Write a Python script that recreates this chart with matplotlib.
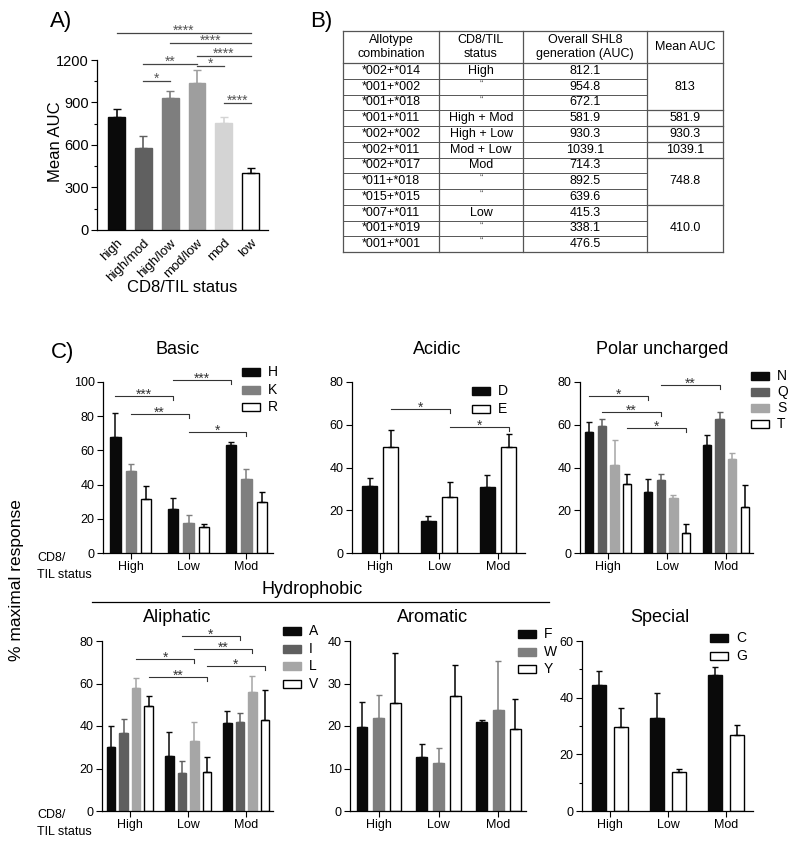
import numpy as np
import matplotlib.pyplot as plt
from matplotlib.patches import Rectangle
from matplotlib.ticker import MultipleLocator

plt.rcParams['font.family'] = ['Liberation Sans', 'DejaVu Sans']

W, H = 800, 849

# ---- panel A: mean AUC per CD8/TIL status
a_groups = ['high', 'high/mod', 'high/low', 'mod/low', 'mod', 'low']
a_means = [800, 580, 930, 1040, 755, 405]
a_errs = [55, 85, 50, 90, 45, 35]
a_colors = ['#0a0a0a', '#606060', '#7e7e7e', '#9e9e9e', '#d4d4d4', 'white']
# (bar from, bar to, height, stars)
a_sig = [(0, 5, 1390, '****'), (2, 5, 1320, '****'), (3, 5, 1228, '****'),
         (1, 3, 1172, '**'), (3, 4, 1158, '*'), (1, 2, 1052, '*'),
         (4, 5, 896, '****')]

# ---- panel B: table
allotypes = ['*002+*014', '*001+*002', '*001+*018', '*001+*011', '*002+*002',
             '*002+*011', '*002+*017', '*011+*018', '*015+*015', '*007+*011',
             '*001+*019', '*001+*001']
til_status = ['High', '\u201c', '\u201c', 'High + Mod', 'High + Low', 'Mod + Low',
              'Mod', '\u201c', '\u201c', 'Low', '\u201c', '\u201c']
shl8_auc = ['812.1', '954.8', '672.1', '581.9', '930.3', '1039.1',
            '714.3', '892.5', '639.6', '415.3', '338.1', '476.5']
mean_auc = ['813', '581.9', '930.3', '1039.1', '748.8', '410.0']
mean_rows = [(0, 3), (3, 4), (4, 5), (5, 6), (6, 9), (9, 12)]
headers = ['Allotype\ncombination', 'CD8/TIL\nstatus', 'Overall SHL8\ngeneration (AUC)', 'Mean AUC']

# ---- panel C: % maximal response per residue
statuses = ['High', 'Low', 'Mod']

basic_labels = ['H', 'K', 'R']
basic_means = [[68, 26, 63], [48, 17.5, 43], [31.5, 15, 30]]
basic_errs = [[14, 6, 2], [4, 4.5, 6], [7.5, 2, 5.5]]
basic_sig = [(0, 0, 1, 91.8, '***'), (1, 0, 1, 81.3, '**'), (0, 1, 2, 101.2, '***'), (1, 1, 2, 70.8, '*')]

acidic_labels = ['D', 'E']
acidic_means = [[31.5, 14.8, 31], [49.5, 26.3, 49.5]]
acidic_errs = [[3.5, 2.5, 5.5], [8, 6.7, 6]]
acidic_sig = [(1, 0, 1, 67.4, '*'), (1, 1, 2, 58.9, '*')]

polar_labels = ['N', 'Q', 'S', 'T']
polar_means = [[56.5, 28.5, 50.5], [59.5, 34, 62.5], [41, 25.8, 44], [32.5, 9.5, 21.5]]
polar_errs = [[5, 6, 4.5], [3, 3, 3.5], [12, 1.2, 3], [4.5, 4, 10.5]]
polar_sig = [(0, 0, 1, 73.4, '*'), (1, 0, 1, 66, '**'), (3, 0, 1, 58.5, '*'), (1, 1, 2, 78.6, '**')]

aliph_labels = ['A', 'I', 'L', 'V']
aliph_means = [[30, 26, 41.3], [36.7, 18, 42], [58, 33, 56], [49.3, 18.5, 43]]
aliph_errs = [[10, 11, 5.7], [6.8, 5.5, 4], [4.5, 8.7, 7.3], [4.7, 7, 14]]
aliph_sig = [(2, 0, 1, 71.5, '*'), (3, 0, 1, 63, '**'), (1, 1, 2, 82.4, '*'),
             (2, 1, 2, 76.2, '**'), (3, 1, 2, 68.2, '*')]

arom_labels = ['F', 'W', 'Y']
arom_means = [[19.8, 12.6, 20.9], [22, 11.3, 23.7], [25.5, 27, 19.2]]
arom_errs = [[5.9, 3.2, 0.6], [5.3, 3.6, 11.7], [11.6, 7.4, 7.2]]

special_labels = ['C', 'G']
special_means = [[44.5, 32.8, 48], [29.5, 13.8, 26.8]]
special_errs = [[5, 8.8, 3], [7, 1, 3.5]]

c3 = ['#0a0a0a', '#7f7f7f', 'white']
c2 = ['#0a0a0a', 'white']
c4 = ['#0a0a0a', '#5f5f5f', '#a6a6a6', 'white']


fig = plt.figure(figsize=(W / 100, H / 100), dpi=100)


def add_ax(l, t, r, b):
    return fig.add_axes([l / W, 1 - b / H, (r - l) / W, (b - t) / H])


def style(ax):
    for s in ['top', 'right']:
        ax.spines[s].set_visible(False)
    for s in ['left', 'bottom']:
        ax.spines[s].set_linewidth(0.9)
    ax.tick_params(direction='out', length=4, width=0.8, labelsize=9, pad=2)
    ax.tick_params(which='minor', direction='out', length=2.5, width=0.8)


def edge(c):
    return 'black' if c == 'white' else c


# overlay in pixel coordinates for free text, table and legends
ov = fig.add_axes([0, 0, 1, 1], zorder=10)
ov.set_xlim(0, W)
ov.set_ylim(H, 0)
ov.axis('off')

# ---------- panel A
axA = add_ax(97, 60, 268, 230)
xa = np.arange(len(a_groups))
for i in range(len(a_groups)):
    axA.bar(xa[i], a_means[i], 0.63, color=a_colors[i], edgecolor=edge(a_colors[i]), linewidth=1)
    axA.errorbar(xa[i], a_means[i], yerr=[[0], [a_errs[i]]], fmt='none',
                 ecolor=edge(a_colors[i]), elinewidth=1.2, capsize=3)
axA.set_xlim(-0.73, 5.65)
axA.set_ylim(0, 1200)
axA.set_yticks([0, 300, 600, 900, 1200])
axA.yaxis.set_minor_locator(MultipleLocator(150))
axA.set_xticks(xa)
axA.set_xticklabels(a_groups, rotation=45, ha='right', rotation_mode='anchor')
style(axA)
axA.tick_params(axis='x', length=0, labelsize=9.5, pad=5)
axA.tick_params(axis='y', labelsize=10.5)
for g1, g2, y, lab in a_sig:
    axA.plot([g1, g2], [y, y], color='#444444', lw=0.9, clip_on=False)
    axA.text((g1 + g2) / 2, y - 12, lab, ha='center', va='baseline', fontsize=10,
             color='#555555', clip_on=False)
ov.text(55, 142, 'Mean AUC', fontsize=12, rotation=90, ha='center', va='center')
ov.text(50, 21, 'A)', fontsize=16, va='center')
ov.text(182, 287, 'CD8/TIL status', fontsize=12, ha='center', va='center')

# ---------- panel B table
ov.text(310, 21, 'B)', fontsize=16, va='center')
cols = [343, 439, 523, 647, 723]
top, head_b, bot = 31, 63, 252
rh = (bot - head_b) / len(allotypes)
lc = '#555555'
for x in cols:
    ov.plot([x, x], [top, bot], color=lc, lw=0.9)
ov.plot([cols[0], cols[-1]], [top, top], color=lc, lw=0.9)
ov.plot([cols[0], cols[-1]], [head_b, head_b], color=lc, lw=0.9)
ov.plot([cols[0], cols[-1]], [bot, bot], color=lc, lw=0.9)
for j, h in enumerate(headers):
    ov.text((cols[j] + cols[j + 1]) / 2, (top + head_b) / 2, h, ha='center', va='center',
            fontsize=9, linespacing=1.2)
for i in range(len(allotypes)):
    yc = head_b + (i + 0.5) * rh
    if i > 0:
        ov.plot([cols[0], cols[3]], [head_b + i * rh] * 2, color=lc, lw=0.7)
    ov.text((cols[0] + cols[1]) / 2, yc, allotypes[i], ha='center', va='center', fontsize=9)
    if til_status[i] == '\u201c':
        ov.text((cols[1] + cols[2]) / 2, yc - 2, til_status[i], ha='center', va='center',
                fontsize=7, color='#555555')
    else:
        ov.text((cols[1] + cols[2]) / 2, yc, til_status[i], ha='center', va='center', fontsize=9)
    ov.text((cols[2] + cols[3]) / 2, yc, shl8_auc[i], ha='center', va='center', fontsize=9)
for val, (r0, r1) in zip(mean_auc, mean_rows):
    if r0 > 0:
        ov.plot([cols[3], cols[4]], [head_b + r0 * rh] * 2, color=lc, lw=0.9)
    ov.text((cols[3] + cols[4]) / 2, head_b + (r0 + r1) / 2 * rh, val,
            ha='center', va='center', fontsize=9)


# ---------- panel C
def grouped(box, labels, means, errs, colors, ymax, ystep, pitch, width,
            sigs, leg, title, title_xy, minor=None):
    ax = add_ax(*box)
    n = len(labels)
    x = np.arange(len(statuses))
    for i in range(n):
        pos = x + (i - (n - 1) / 2) * pitch
        ax.bar(pos, means[i], width, color=colors[i], edgecolor=edge(colors[i]), linewidth=1)
        ax.errorbar(pos, means[i], yerr=[np.zeros(len(x)), errs[i]], fmt='none',
                    ecolor=edge(colors[i]), elinewidth=1.1, capsize=2.5)
    ax.set_xlim(-0.48, 2.46)
    ax.set_ylim(0, ymax)
    ax.set_yticks(np.arange(0, ymax + 1, ystep))
    if minor:
        ax.yaxis.set_minor_locator(MultipleLocator(minor))
    ax.set_xticks(x)
    ax.set_xticklabels(statuses)
    style(ax)
    tick = ymax * 0.022
    px = ymax / (box[3] - box[1])
    for s, g1, g2, y, lab in sigs:
        x1 = g1 + (s - (n - 1) / 2) * pitch
        x2 = g2 + (s - (n - 1) / 2) * pitch
        ax.plot([x1, x2, x2], [y, y, y - tick], color='#333333', lw=0.8, clip_on=False)
        ax.text((x1 + x2) / 2, y - 3 * px, lab, ha='center', va='baseline',
                fontsize=10, color='#333333', clip_on=False)
    lx, ly0, dy = leg
    for i in range(n):
        yy = ly0 + i * dy
        ov.add_patch(Rectangle((lx, yy - 4), 18, 8, facecolor=colors[i],
                               edgecolor=edge(colors[i]), lw=1))
        ov.text(lx + 26, yy, labels[i], fontsize=10, va='center')
    ov.text(title_xy[0], title_xy[1], title, fontsize=13, ha='center', va='center')
    return ax


grouped((103, 382, 273, 553), basic_labels, basic_means, basic_errs, c3, 100, 20,
        0.266, 0.18, basic_sig, (242, 372, 17.5), 'Basic', (178, 349))
grouped((352, 382, 525, 553), acidic_labels, acidic_means, acidic_errs, c2, 80, 20,
        0.36, 0.25, acidic_sig, (472, 391, 18), 'Acidic', (437, 349))
grouped((580, 382, 753, 553), polar_labels, polar_means, polar_errs, c4, 80, 20,
        0.215, 0.14, polar_sig, (751, 376, 16), 'Polar uncharged', (662, 349))
grouped((102, 641, 273, 811), aliph_labels, aliph_means, aliph_errs, c4, 80, 20,
        0.215, 0.145, aliph_sig, (283, 631, 17.7), 'Aliphatic', (177, 618))
grouped((350, 641, 526, 811), arom_labels, arom_means, arom_errs, c3, 40, 10,
        0.28, 0.18, [], (518, 634, 17.5), 'Aromatic', (433, 618))
grouped((582, 641, 753, 811), special_labels, special_means, special_errs, c2, 60, 20,
        0.373, 0.24, [], (710, 638, 18), 'Special', (660, 618), minor=10)

ov.text(63, 352, 'C)', fontsize=16, ha='center', va='center')
ov.text(17, 580, '% maximal response', fontsize=12.5, rotation=90, ha='center', va='center')
for y0 in (558, 815):
    ov.text(37, y0, 'CD8/', fontsize=9, va='center')
    ov.text(37, y0 + 17, 'TIL status', fontsize=9, va='center')
ov.text(312, 590, 'Hydrophobic', fontsize=13, ha='center', va='center')
ov.plot([92, 549], [602, 602], color='black', lw=0.9)

fig.savefig('out.png', dpi=100)
